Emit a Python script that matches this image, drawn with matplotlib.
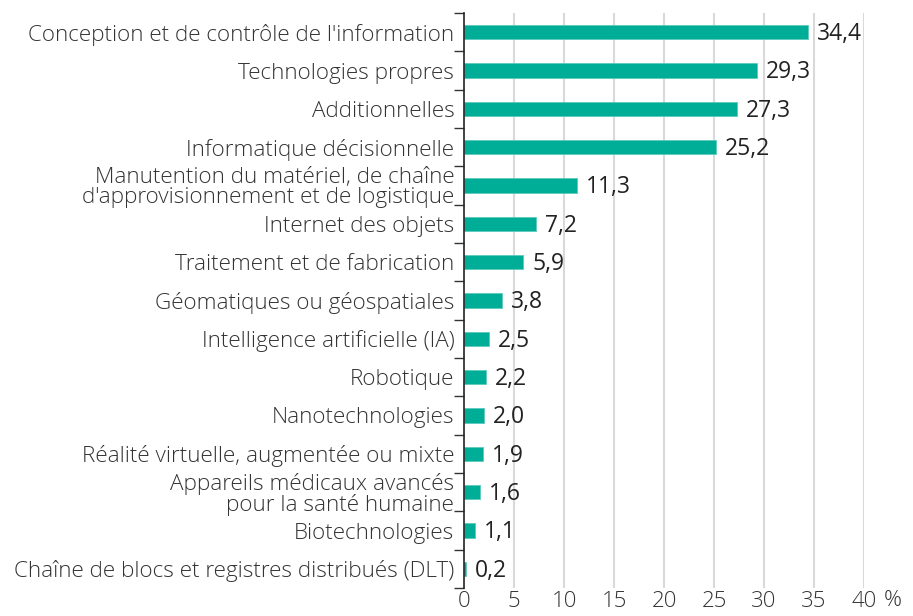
import matplotlib
matplotlib.use("Agg")
import matplotlib.pyplot as plt
from matplotlib.ticker import FixedLocator, NullFormatter

categories = [
    "Conception et de contrôle de l'information",
    "Technologies propres",
    "Additionnelles",
    "Informatique décisionnelle",
    "Manutention du matériel, de chaîne\nd'approvisionnement et de logistique",
    "Internet des objets",
    "Traitement et de fabrication",
    "Géomatiques ou géospatiales",
    "Intelligence artificielle (IA)",
    "Robotique",
    "Nanotechnologies",
    "Réalité virtuelle, augmentée ou mixte",
    "Appareils médicaux avancés\npour la santé humaine",
    "Biotechnologies",
    "Chaîne de blocs et registres distribués (DLT)",
]
values = [34.4, 29.3, 27.3, 25.2, 11.3, 7.2, 5.9, 3.8, 2.5, 2.2, 2.0, 1.9, 1.6, 1.1, 0.2]
xticks = [0, 5, 10, 15, 20, 25, 30, 35, 40]

plt.rcParams['font.family'] = ['Open Sans', 'DejaVu Sans']

fig = plt.figure(figsize=(9.13, 6.16), dpi=100)
ax = fig.add_axes([464/913, 1-588/616, 400/913, 575/616])

n = len(categories)
ypos = list(range(n))
bar_color = "#00AE97"
ax.barh(ypos, values, height=0.37, color=bar_color, edgecolor="#5CCBBB", linewidth=0.6, zorder=3)
for y, v in zip(ypos, values):
    ax.text(v + 0.9, y + 0.05, f"{v:.1f}".replace(".", ","), va="center", ha="left",
            fontsize=16.5, color="#222222")

ax.set_ylim(n - 0.5, -0.5)
ax.set_xlim(0, 40)
ax.set_yticks(ypos)
ax.set_yticklabels(categories, fontsize=16.2, color="#333333", fontweight="light",
                   linespacing=0.95)
ax.tick_params(axis="y", which="major", length=0, pad=7)
ax.yaxis.set_minor_locator(FixedLocator([i - 0.5 for i in range(n + 1)]))
ax.yaxis.set_minor_formatter(NullFormatter())
ax.tick_params(axis="y", which="minor", length=7, width=1, color="#333333")

ax.set_xticks(xticks)
ax.set_xticklabels([str(t) for t in xticks], fontsize=16, color="#333333", fontweight="light")
ax.tick_params(axis="x", length=0, pad=2)
ax.grid(axis="x", color="#D9D9D9", linewidth=1.5, zorder=0)
ax.xaxis.get_gridlines()[0].set_visible(False)

for s in ["top", "right", "bottom"]:
    ax.spines[s].set_visible(False)
ax.spines["left"].set_color("#222222")
ax.spines["left"].set_linewidth(1.2)
ax.spines["left"].set_zorder(4)

fig.text(893/913, 1-590/616, "%", fontsize=16, color="#333333", ha="center", va="top",
         fontweight="light")

fig.savefig("out.png", dpi=100)
